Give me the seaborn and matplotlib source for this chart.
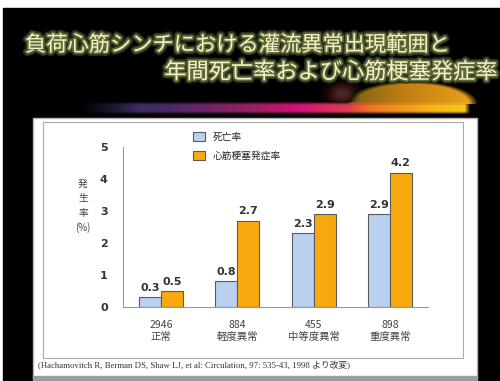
import numpy as np
import pandas as pd
import matplotlib
matplotlib.use("Agg")
import matplotlib.pyplot as plt
import matplotlib.patheffects as pe
from matplotlib.colors import LinearSegmentedColormap, to_rgb
from matplotlib.patches import Rectangle
import seaborn as sns

# data
groups = ['2946\n正常', '884\n軽度異常', '455\n中等度異常', '898\n重度異常']
death_rate = [0.3, 0.8, 2.3, 2.9]
mi_rate = [0.5, 2.7, 2.9, 4.2]
series = ['死亡率', '心筋梗塞発症率']
yticks = [0, 1, 2, 3, 4, 5]

title_1 = '負荷心筋シンチにおける灌流異常出現範囲と'
title_2 = '年間死亡率および心筋梗塞発症率'
ylabel = '発\n生\n率\n(%)'
citation = '(Hachamovitch R, Berman DS, Shaw LJ, et al: Circulation, 97: 535-43, 1998 より改変)'

sns.set_theme(style='white')
plt.rcParams['font.family'] = ['Noto Sans CJK JP', 'DejaVu Sans']

W, H = 500, 381
fig = plt.figure(figsize=(W / 100, H / 100), dpi=100)
fig.patch.set_facecolor('white')


def fx(px):
    return px / W


def fy(py):
    return 1 - py / H


# ---- slide background (decoration, in pixel coords)
bg = fig.add_axes([0, 0, 1, 1], zorder=-5)
bg.axis('off')
bg.add_patch(Rectangle((3, 8), W, H, color='black', zorder=0))
bg.add_patch(Rectangle((33, 118), 444, 260, facecolor='white', edgecolor='#b5b5b5', lw=1, zorder=0))
bg.add_patch(Rectangle((33, 376), 444, 6, color='#9c9c9c', zorder=0))
bg.add_patch(Rectangle((43, 122), 420, 236, facecolor='white', edgecolor='#aaaaaa', lw=0.8, zorder=0))

# gradient stripe + amber glow dome
x0, x1, y0, y1 = 60, 485, 76, 118
xx, yy = np.meshgrid(np.arange(x0, x1) + 0.5, np.arange(y0, y1) + 0.5)
stripe_cmap = LinearSegmentedColormap.from_list('stripe', [
    (0.0, '#2a3050'), (0.23, '#4a2a6a'), (0.46, '#a02060'), (0.56, '#d0107a'),
    (0.69, '#e83a50'), (0.76, '#f07a20'), (0.92, '#f8b818'), (1.0, '#f8c818')])
t = np.clip((xx - 80) / (467 - 80), 0, 1)
rgb = stripe_cmap(t)[..., :3]
band = np.clip(1.3 - ((yy - 108) / 5.5) ** 2, 0, 1)
band *= np.clip((xx - 80) / 60, 0, 1) * np.clip((470 - xx) / 5, 0, 1)

dome_cmap = LinearSegmentedColormap.from_list('dome', ['#6e5a12', '#c07e14', '#eea21c'])
dome_rgb = dome_cmap(np.clip((xx - 335) / 140, 0, 1))[..., :3]
d = ((xx - 412) / 66) ** 2 + ((yy - 104) / 23) ** 2
dome = np.clip((1 - d) * 4, 0, 1) * (yy < 104) * np.clip((xx - 335) / 25, 0, 1)

alpha = np.clip(band + dome, 0, 1)
mix = dome / np.maximum(band + dome, 1e-6)
col = rgb * (1 - mix[..., None]) + dome_rgb * mix[..., None]
green = np.exp(-(((xx - 342) / 12) ** 2 + ((yy - 94) / 9) ** 2)) * 0.6
col = col * (1 - green[..., None]) + np.array(to_rgb('#2a5a2a')) * green[..., None]
alpha = np.maximum(alpha, green)
img = np.dstack([col, alpha])
bg.imshow(img, extent=(x0, x1, y1, y0), interpolation='bilinear', zorder=2, aspect='auto')
bg.set_xlim(0, W)
bg.set_ylim(H, 0)

# ---- titles
glow_fx = [pe.withStroke(linewidth=5, foreground='#2e3a22', alpha=0.8),
           pe.withStroke(linewidth=2.5, foreground='#66703c', alpha=0.9)]
fig.text(fx(25), fy(45), title_1, ha='left', va='center', fontsize=15.3,
         color='#f6f1c6', path_effects=glow_fx)
fig.text(fx(498), fy(72), title_2, ha='right', va='center', fontsize=16,
         color='#f6f1c6', path_effects=glow_fx)

# ---- chart
df = pd.DataFrame({
    'group': groups * 2,
    'rate': death_rate + mi_rate,
    'series': [series[0]] * len(groups) + [series[1]] * len(groups),
})

ax = fig.add_axes([fx(123), fy(307), fx(428) - fx(123), fy(147) - fy(307)])
ax.set_facecolor('none')
sns.barplot(data=df, x='group', y='rate', hue='series', hue_order=series,
            palette=['#b9d1ef', '#f8a90d'], width=0.58, edgecolor='#5a5a5a',
            linewidth=0.8, saturation=1, ax=ax)

for cont in ax.containers:
    ax.bar_label(cont, fmt='%.1f', padding=3, fontsize=8, fontweight='bold',
                 color='#333333', family=['DejaVu Sans'])

ax.set_xlim(-0.5, 3.5)
ax.set_ylim(0, 5)
ax.set_yticks(yticks)
ax.set_yticklabels([str(v) for v in yticks], fontsize=8, fontweight='bold',
                   color='#333333', family=['DejaVu Sans'])
ax.set_xticks(range(len(groups)))
ax.set_xticklabels(groups, fontsize=7.5, color='#444444', linespacing=1.3)
ax.set_xticks([0.5, 1.5, 2.5, 3.5], minor=True)
ax.tick_params(axis='x', which='major', length=0, pad=9)
ax.tick_params(axis='x', which='minor', length=3, color='#888888', direction='in')
ax.tick_params(axis='y', length=3, color='#888888', direction='out', pad=8)
ax.set_xlabel('')
ax.set_ylabel('')
sns.despine(ax=ax)
for s in ('left', 'bottom'):
    ax.spines[s].set_color('#999999')
    ax.spines[s].set_linewidth(0.8)

handles, labels = ax.get_legend_handles_labels()
ax.get_legend().remove()
fig.legend(handles, labels, loc='upper left', bbox_to_anchor=(fx(193), fy(132)),
           frameon=False, fontsize=7, handlelength=1.2, handleheight=1.1,
           labelspacing=0.9, handletextpad=0.8, borderpad=0, borderaxespad=0)

fig.text(fx(83), fy(206), ylabel, ha='center', va='center', fontsize=7,
         color='#444444', linespacing=1.55)

fig.text(fx(38), fy(366), citation, ha='left', va='center', fontsize=6.3,
         color='#333333', family=['Liberation Serif', 'Noto Sans CJK JP'])

fig.savefig('out.png', dpi=100)
